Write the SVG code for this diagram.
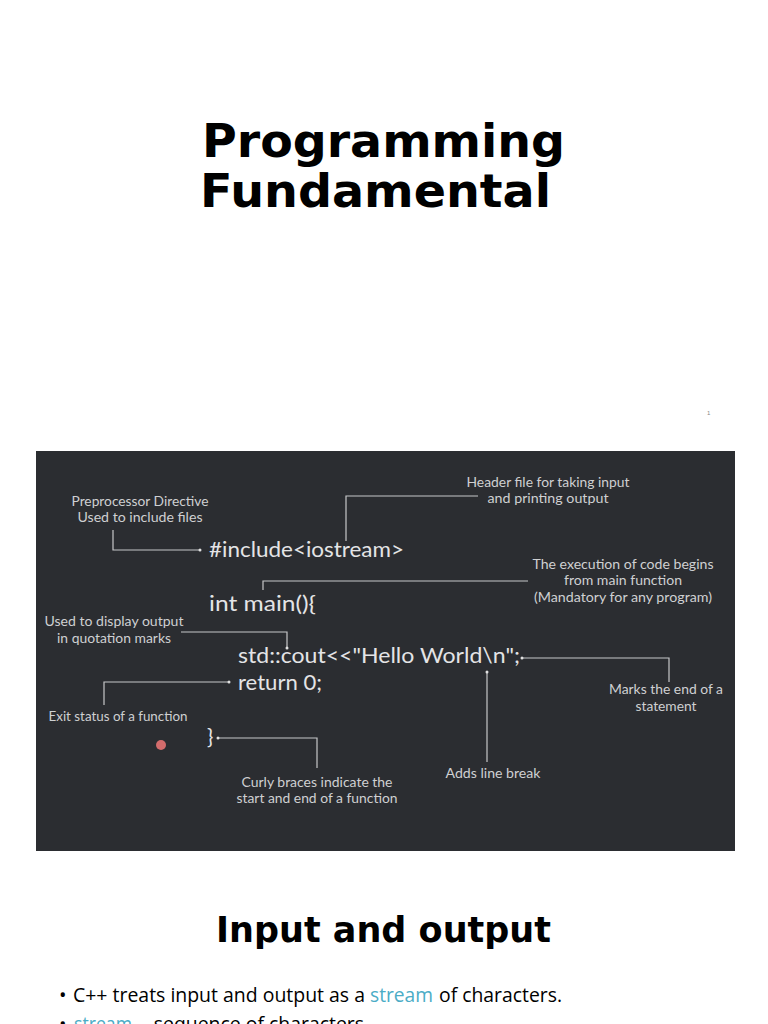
<svg xmlns="http://www.w3.org/2000/svg" width="768" height="1024" viewBox="0 0 768 1024">
<style>
.title{font-family:"DejaVu Sans",sans-serif;font-weight:bold;fill:#000}
.code{font-family:Lato,"Open Sans",sans-serif;font-size:21px;fill:#e4e4e6}
.ann{font-family:Lato,"Open Sans",sans-serif;font-size:14px;fill:#cfd0d2;text-anchor:middle}
.conn{fill:none;stroke:#c6c7c9;stroke-width:1.2}
.dot{fill:#e0e0e0}
.body{font-family:"Liberation Sans Narrow","Open Sans",sans-serif;font-size:20px;fill:#000}
.hl{fill:#4bacc6}
</style>
<rect width="768" height="1024" fill="#ffffff"/>
<g id="slide1-title">
<text class="title" x="202" y="157" font-size="47" textLength="363" lengthAdjust="spacingAndGlyphs">Programming</text>
<text class="title" x="200" y="207" font-size="47" textLength="351" lengthAdjust="spacingAndGlyphs">Fundamental</text>
</g>
<text x="707" y="415" font-family="Liberation Sans,sans-serif" font-size="6" fill="#888">1</text>
<g id="panel">
<rect x="36" y="451" width="699" height="400" fill="#2b2d31"/>
</g>
<g id="code">
<text class="code" x="209" y="557" textLength="195" lengthAdjust="spacingAndGlyphs">#include&lt;iostream&gt;</text>
<text class="code" x="209" y="611" textLength="107" lengthAdjust="spacingAndGlyphs">int main(){</text>
<text class="code" x="238" y="663" textLength="282" lengthAdjust="spacingAndGlyphs">std::cout&lt;&lt;"Hello World\n";</text>
<text class="code" x="238" y="690" textLength="84" lengthAdjust="spacingAndGlyphs">return 0;</text>
<text class="code" x="207" y="744">}</text>
</g>
<g id="connectors">
<polyline class="conn" points="113,530 113,550 200,550"/>
<circle class="dot" cx="200" cy="550" r="1.5"/>
<polyline class="conn" points="346,541 346,496 478,496"/>
<polyline class="conn" points="263,590 263,581 528,581"/>
<polyline class="conn" points="181,632 287,632 287,648"/>
<circle class="dot" cx="287" cy="648" r="1.5"/>
<polyline class="conn" points="522,658 669,658 669,682"/>
<circle class="dot" cx="522" cy="658" r="1.5"/>
<line class="conn" x1="487" y1="672" x2="487" y2="762"/>
<circle class="dot" cx="487" cy="672" r="1.5"/>
<polyline class="conn" points="104,705 104,682 229,682"/>
<circle class="dot" cx="229" cy="682" r="1.5"/>
<polyline class="conn" points="218,738 317,738 317,768"/>
<circle class="dot" cx="218" cy="738" r="1.5"/>
</g>
<g id="ann-preprocessor">
<text class="ann" x="140" y="506" textLength="137" lengthAdjust="spacingAndGlyphs">Preprocessor Directive</text>
<text class="ann" x="140" y="522" textLength="125" lengthAdjust="spacingAndGlyphs">Used to include files</text>
</g>
<g id="ann-header">
<text class="ann" x="548" y="487" textLength="163" lengthAdjust="spacingAndGlyphs">Header file for taking input</text>
<text class="ann" x="548" y="503" textLength="121" lengthAdjust="spacingAndGlyphs">and printing output</text>
</g>
<g id="ann-main">
<text class="ann" x="623" y="569" textLength="181" lengthAdjust="spacingAndGlyphs">The execution of code begins</text>
<text class="ann" x="623" y="585" textLength="118" lengthAdjust="spacingAndGlyphs">from main function</text>
<text class="ann" x="623" y="602" textLength="178" lengthAdjust="spacingAndGlyphs">(Mandatory for any program)</text>
</g>
<g id="ann-cout">
<text class="ann" x="114" y="626" textLength="139" lengthAdjust="spacingAndGlyphs">Used to display output</text>
<text class="ann" x="114" y="643" textLength="114" lengthAdjust="spacingAndGlyphs">in quotation marks</text>
</g>
<g id="ann-semicolon">
<text class="ann" x="666" y="694" textLength="114" lengthAdjust="spacingAndGlyphs">Marks the end of a</text>
<text class="ann" x="666" y="711" textLength="61" lengthAdjust="spacingAndGlyphs">statement</text>
</g>
<g id="ann-newline">
<text class="ann" x="493" y="778" textLength="95" lengthAdjust="spacingAndGlyphs">Adds line break</text>
</g>
<g id="ann-return">
<text class="ann" x="118" y="721" textLength="139" lengthAdjust="spacingAndGlyphs">Exit status of a function</text>
</g>
<g id="ann-braces">
<text class="ann" x="317" y="787" textLength="151" lengthAdjust="spacingAndGlyphs">Curly braces indicate the</text>
<text class="ann" x="317" y="803" textLength="161" lengthAdjust="spacingAndGlyphs">start and end of a function</text>
</g>
<circle cx="161" cy="745" r="5" fill="#e57373" opacity="0.9"/>
<g id="slide2-title">
<text class="title" x="216" y="942" font-size="35" textLength="335" lengthAdjust="spacingAndGlyphs">Input and output</text>
</g>
<g id="slide2-body">
<text class="body" x="59" y="1002">•</text>
<text class="body" x="73" y="1002" textLength="292" lengthAdjust="spacingAndGlyphs">C++ treats input and output as a</text>
<text class="body hl" x="370" y="1002" textLength="63" lengthAdjust="spacingAndGlyphs">stream</text>
<text class="body" x="439" y="1002" textLength="123" lengthAdjust="spacingAndGlyphs">of characters.</text>
<text class="body" x="59" y="1031">•</text>
<text class="body hl" x="74" y="1031" textLength="58" lengthAdjust="spacingAndGlyphs">stream</text>
<text class="body" x="139" y="1031" textLength="225" lengthAdjust="spacingAndGlyphs">– sequence of characters</text>
</g>
</svg>
